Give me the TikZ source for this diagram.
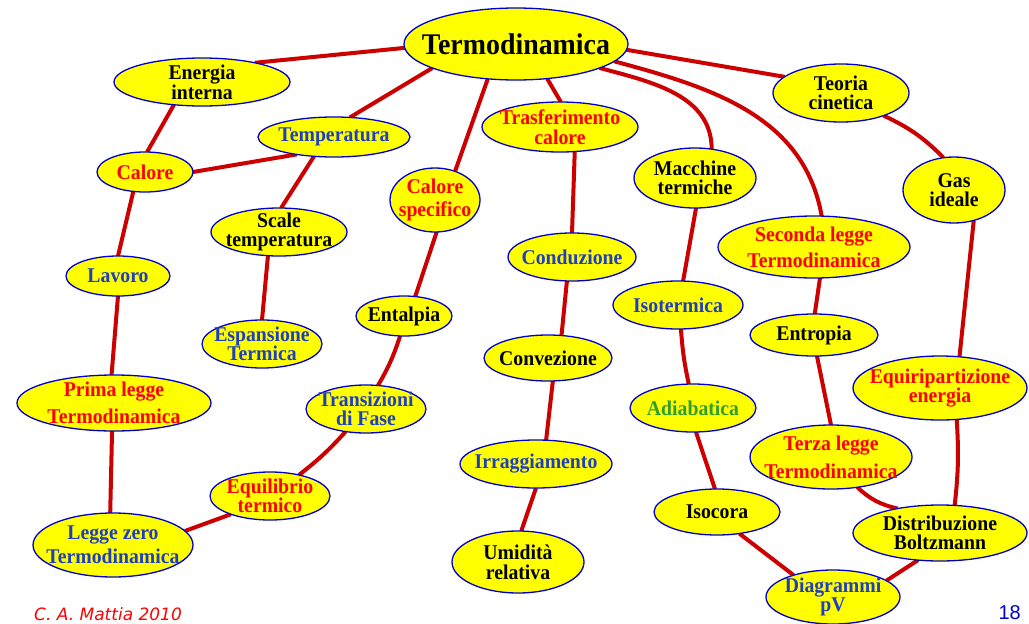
\documentclass[tikz,border=0pt]{standalone}
\usepackage{fontspec}
\setmainfont{Liberation Serif}[FakeStretch=0.94]
\newfontfamily\titlefont{Liberation Serif}[FakeStretch=0.93]
\newfontfamily\footfont{DejaVu Sans}
\newfontfamily\numfont{Liberation Sans}
\usetikzlibrary{shapes.geometric,backgrounds}
\definecolor{lnred}{HTML}{CC0000}
\definecolor{elborder}{HTML}{0000CC}
\definecolor{elfill}{HTML}{FFFF00}
\definecolor{tblue}{HTML}{1F3FC0}
\definecolor{tred}{HTML}{FF0000}
\definecolor{tgreen}{HTML}{2E9E2E}
\definecolor{tblack}{HTML}{000000}
\tikzset{
  bub/.style={ellipse, draw=elborder, line width=1.3pt, fill=elfill, inner sep=0pt, outer sep=0pt},
  txt/.style={align=center, inner sep=0pt, font=\bfseries\fontsize{21}{19}\selectfont},
  link/.style={draw=lnred, line width=4pt}
}
\newcommand{\bub}[7]{%
  \node[bub, minimum width=#4pt, minimum height=#5pt] (#1) at (#2,#3) {};
  \node[txt, text=#6] (#1-t) at (#2,#3) {#7};}
\begin{document}
\begin{tikzpicture}[x=1pt,y=-1pt]
\useasboundingbox (0,0) rectangle (1029,624);
\node[bub, minimum width=224pt, minimum height=72pt] (termo) at (516,44) {};
\node[inner sep=0pt, font=\titlefont\bfseries\fontsize{30}{30}\selectfont] (termo-t) at (516,44) {Termodinamica};
\bub{en}{202}{82}{176}{48}{tblack}{Energia\\interna}
\bub{temp}{334}{137}{152}{40}{tblue}{Temperatura}
\bub{cal}{145}{172}{96}{40}{tred}{Calore}
\bub{scale}{279}{232}{136}{48}{tblack}{Scale\\temperatura}
\bub{lav}{118}{276}{104}{40}{tblue}{Lavoro}
\bub{esp}{262}{344}{120}{48}{tblue}{Espansione\\[-1pt]Termica}
\bub{cs}{435}{200}{90}{64}{tred}{Calore\\[4pt]specifico}
\bub{ent}{404}{316}{96}{40}{tblack}{Entalpia}
\bub{tr}{366}{409}{120}{48}{tblue}{Transizioni\\di Fase}
\bub{prima}{114}{403}{194}{56}{tred}{Prima legge\\[7pt]Termodinamica}
\bub{eq}{270}{496}{120}{48}{tred}{Equilibrio\\[-1pt]termico}
\bub{lz}{113}{545}{160}{64}{tblue}{Legge zero\\[4pt]Termodinamica}
\bub{tras}{560}{127}{156}{50}{tred}{Trasferimento\\[1pt]calore}
\bub{cond}{572}{257}{128}{48}{tblue}{Conduzione}
\bub{conv}{548}{358}{128}{46}{tblack}{Convezione}
\bub{irr}{536}{464}{152}{48}{tblue}{Irraggiamento}
\bub{umi}{518}{562}{132}{62}{tblack}{Umidità\\[1pt]relativa}
\bub{mac}{695}{178}{122}{60}{tblack}{Macchine\\termiche}
\bub{iso}{678}{305}{130}{48}{tblue}{Isotermica}
\bub{adia}{693}{408}{126}{48}{tgreen}{Adiabatica}
\bub{isoc}{717}{512}{126}{46}{tblack}{Isocora}
\bub{dia}{833}{597}{134}{54}{tblue}{Diagrammi\\pV}
\bub{teo}{841}{93}{136}{58}{tblack}{Teoria\\cinetica}
\bub{gas}{954}{190}{102}{66}{tblack}{Gas\\ideale}
\bub{sec}{814}{247}{192}{62}{tred}{Seconda legge\\[6pt]Termodinamica}
\bub{entr}{814}{335}{128}{42}{tblack}{Entropia}
\bub{equi}{940}{388}{174}{64}{tred}{Equiripartizione\\[-1pt]energia}
\bub{terza}{831}{457}{162}{64}{tred}{Terza legge\\[8pt]Termodinamica}
\bub{dist}{940}{533}{174}{56}{tblack}{Distribuzione\\Boltzmann}
\node[anchor=base west, inner sep=0pt, text=tred, font=\footfont\itshape\fontsize{17}{17}\selectfont] (foot) at (34,620) {C. A. Mattia 2010};
\node[anchor=base east, inner sep=0pt, text=elborder, font=\numfont\fontsize{20}{20}\selectfont] (pagenum) at (1021,619) {18};
\begin{pgfonlayer}{background}
\draw[link] (termo.182) -- (en.20);
\draw[link] (termo.196) -- (temp.51);
\draw[link] (en.219) -- (cal.84);
\draw[link] (cal.0) -- (temp.205);
\draw[link] (temp.224) -- (scale.85);
\draw[link] (scale.245) -- (esp.90);
\draw[link] (cal.239) -- (lav.90);
\draw[link] (lav.270) -- (prima.95);
\draw[link] (prima.266) -- (lz.95);
\draw[link] (lz.11) -- (eq.205);
\draw[link] (eq.36) to[bend right=5] (tr.228);
\draw[link] (tr.63) to[bend right=6] (ent.259);
\draw[link] (ent.60) -- (cs.273);
\draw[link] (termo.231) -- (cs.55);
\draw[link] (termo.312) -- (tras.88);
\draw[link] (tras.301) -- (cond.90);
\draw[link] (cond.258) -- (conv.59);
\draw[link] (conv.282) -- (irr.67);
\draw[link] (irr.270) -- (umi.84);
\draw[link] (termo.344) to[out=-15,in=90] (mac.60);
\draw[link] (mac.272) -- (iso.78);
\draw[link] (iso.277) to[bend right=4] (adia.100);
\draw[link] (adia.277) -- (isoc.95);
\draw[link] (isoc.316) -- (dia.151);
\draw[link] (dia.17) -- (dist.231);
\draw[link] (terza.311) to[bend right=15] (dist.150);
\draw[link] (terza.90) -- (entr.278);
\draw[link] (entr.88) -- (sec.281);
\draw[link] (termo.350) to[out=-15,in=100] (sec.76);
\draw[link] (termo.357) -- (teo.164);
\draw[link] (teo.332) to[bend left=10] (gas.108);
\draw[link] (gas.303) -- (equi.58);
\draw[link] (equi.298) to[bend left=5] (dist.62);
\end{pgfonlayer}
\end{tikzpicture}
\end{document}
